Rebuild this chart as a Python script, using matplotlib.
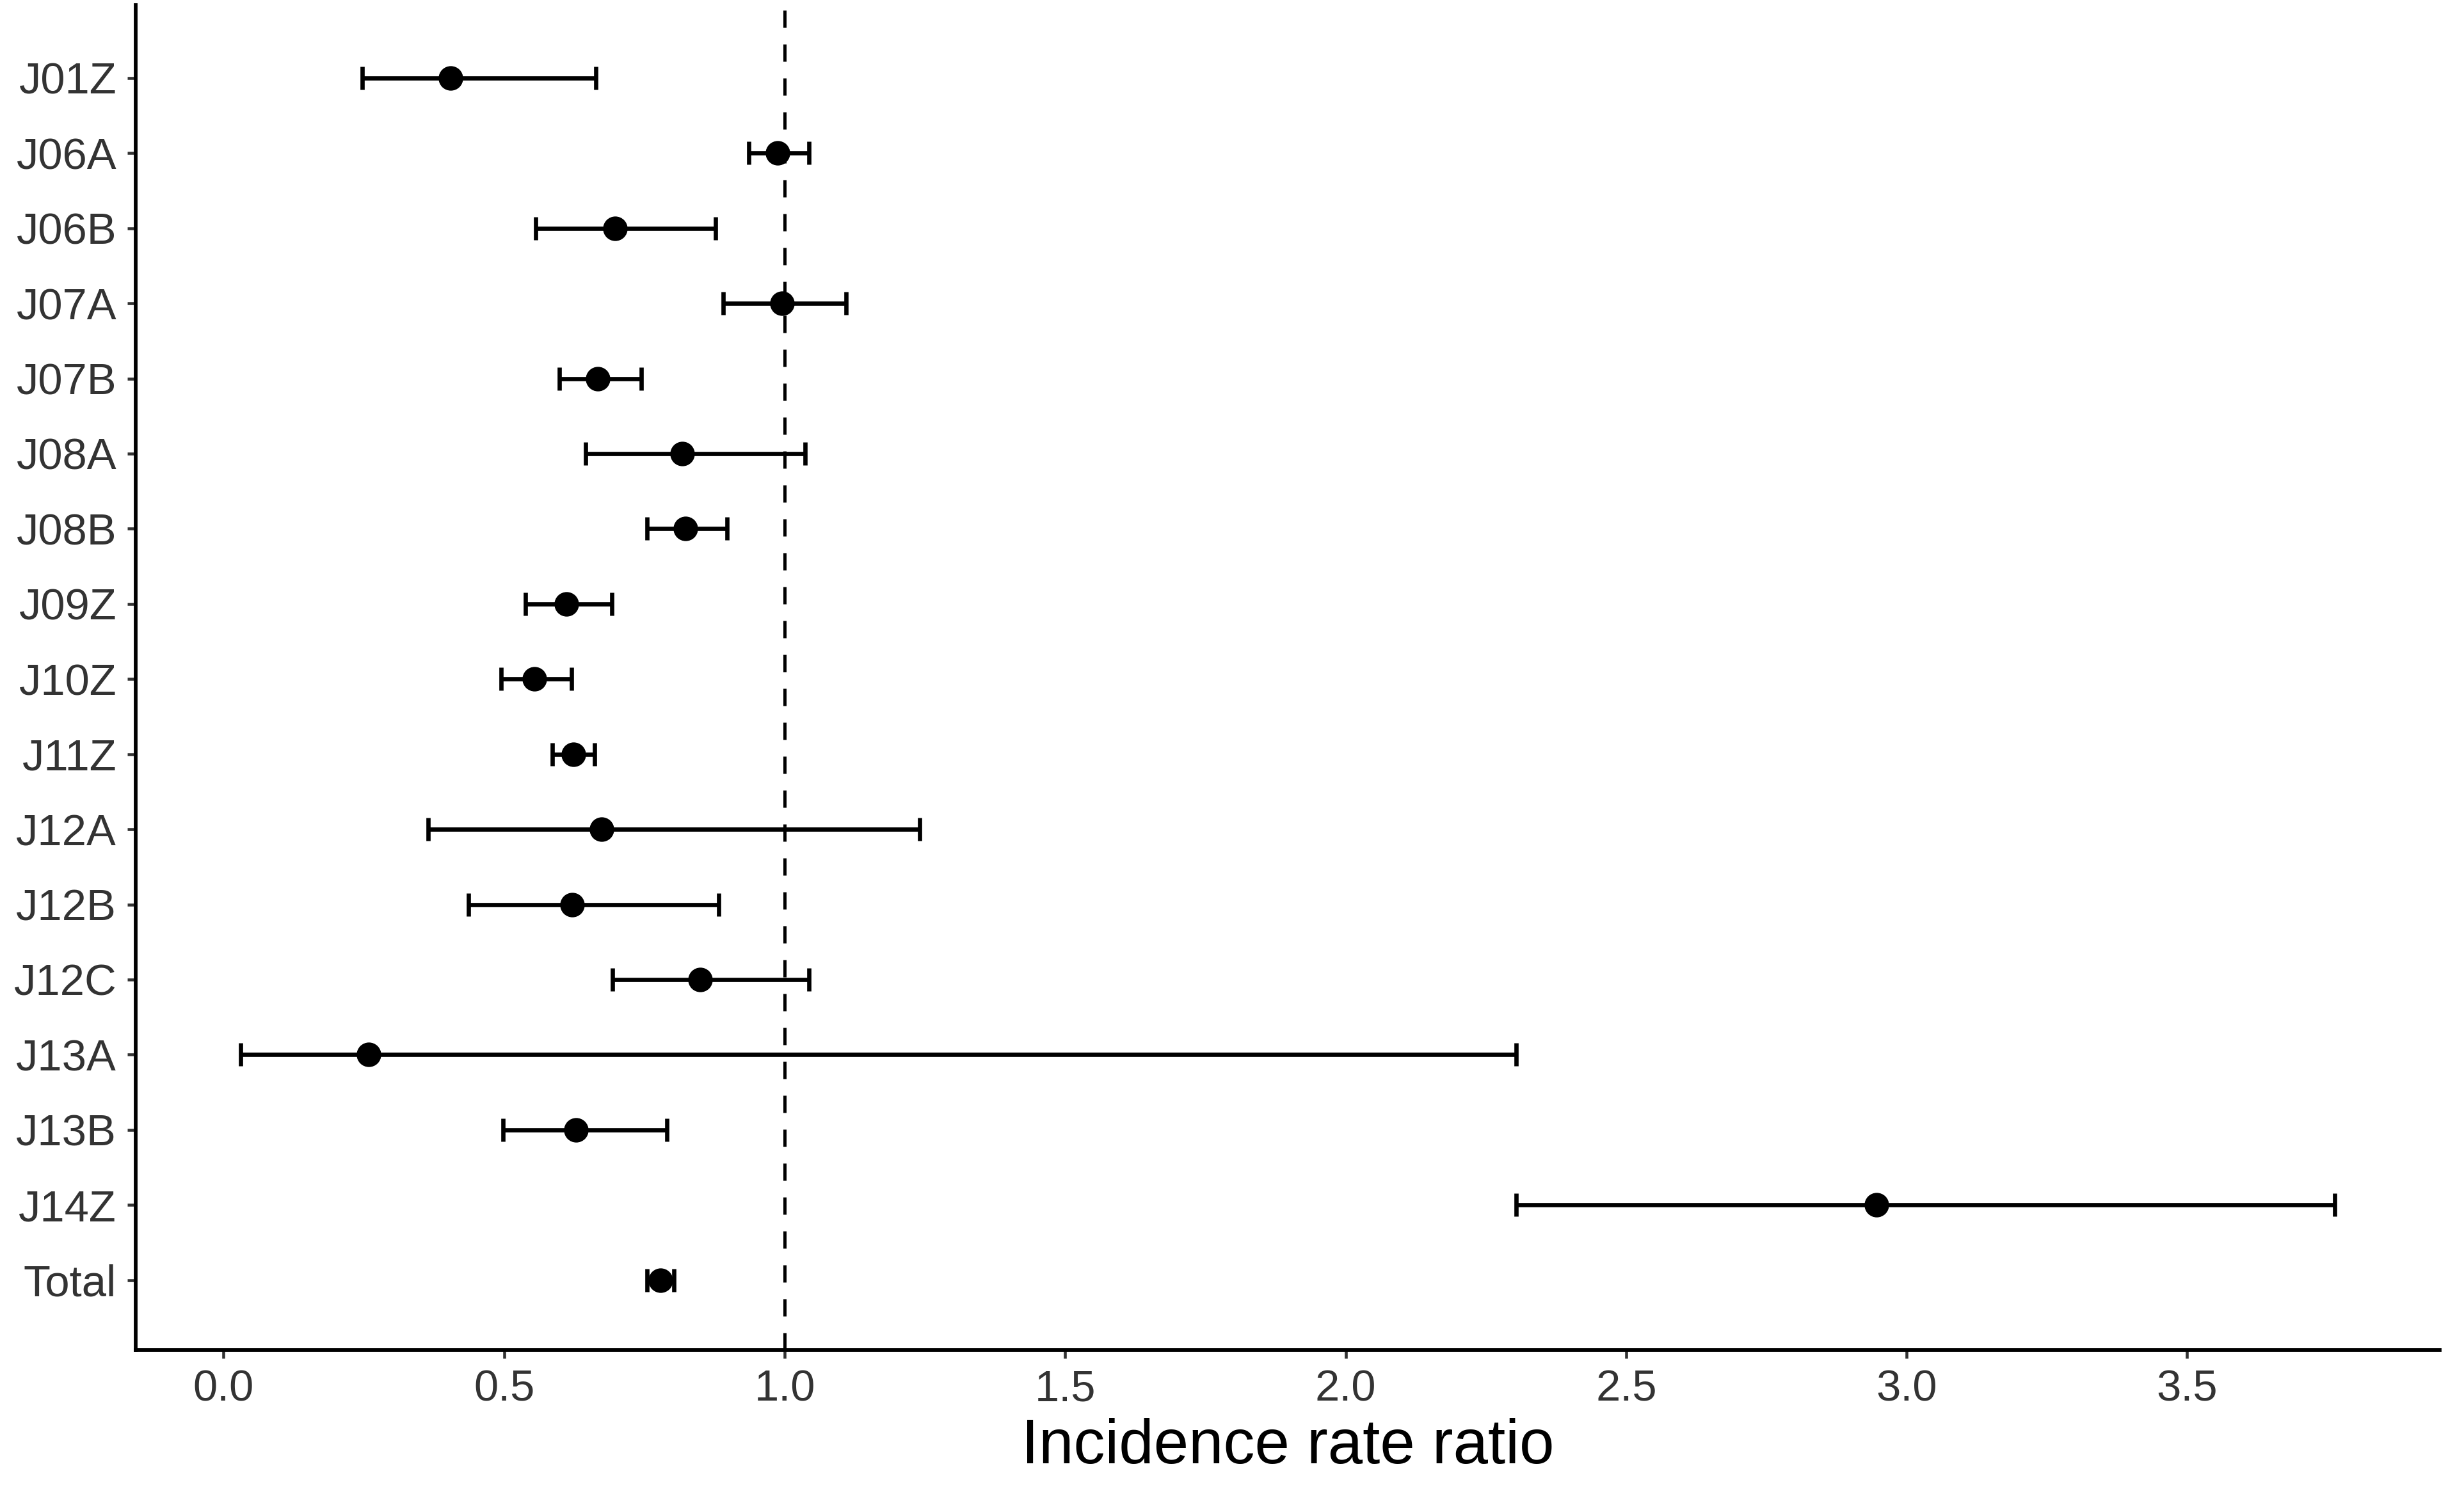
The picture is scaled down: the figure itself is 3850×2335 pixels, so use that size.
import numpy as np
import matplotlib
matplotlib.use("Agg")
import matplotlib.pyplot as plt

plt.rcParams['font.family'] = ['Liberation Sans', 'DejaVu Sans']

categories = ["J01Z", "J06A", "J06B", "J07A", "J07B", "J08A", "J08B", "J09Z",
              "J10Z", "J11Z", "J12A", "J12B", "J12C", "J13A", "J13B", "J14Z", "Total"]
irr = [0.405, 0.987, 0.698, 0.995, 0.667, 0.817, 0.823, 0.611,
       0.554, 0.623, 0.674, 0.621, 0.849, 0.258, 0.628, 2.946, 0.779]
lower = [0.247, 0.936, 0.556, 0.891, 0.599, 0.645, 0.755, 0.538,
         0.495, 0.586, 0.365, 0.436, 0.693, 0.030, 0.498, 2.304, 0.755]
upper = [0.663, 1.043, 0.877, 1.109, 0.745, 1.036, 0.897, 0.692,
         0.620, 0.661, 1.241, 0.882, 1.043, 2.304, 0.790, 3.763, 0.803]
xticks = [0.0, 0.5, 1.0, 1.5, 2.0, 2.5, 3.0, 3.5]
xtick_labels = ["0.0", "0.5", "1.0", "1.5", "2.0", "2.5", "3.0", "3.5"]
ref_value = 1.0
x_label = "Incidence rate ratio"

irr_a = np.array(irr)
lo_a = np.array(lower)
hi_a = np.array(upper)
ypos = np.arange(len(categories))

fig = plt.figure(figsize=(3850 / 300, 2335 / 300), dpi=300)
ax = fig.add_axes([0.0551, 0.0964, 0.9349, 0.9002])

ax.axvline(ref_value, color='black', lw=1.2, linestyle=(0, (5.4, 5.2)), zorder=1)
ax.errorbar(irr_a, ypos, xerr=[irr_a - lo_a, hi_a - irr_a], fmt='o', color='black',
            ms=8.2, elinewidth=1.6, capsize=4.3, capthick=1.6, zorder=3)

rng = hi_a.max() - lo_a.min()
ax.set_xlim(lo_a.min() - 0.05 * rng, hi_a.max() + 0.05 * rng)
ax.set_ylim(len(categories) - 1 + 0.93, -0.97)

ax.set_yticks(ypos)
ax.set_yticklabels(categories)
ax.set_xticks(xticks)
ax.set_xticklabels(xtick_labels)

for s in ['top', 'right']:
    ax.spines[s].set_visible(False)
for s in ['left', 'bottom']:
    ax.spines[s].set_linewidth(1.4)
    ax.spines[s].set_color('black')

ax.tick_params(axis='both', length=3.2, width=1.1, color='#333333',
               labelsize=16.5, labelcolor='#333333')
ax.tick_params(axis='y', pad=4)
ax.tick_params(axis='x', pad=4)

ax.set_xlabel(x_label, fontsize=23.5, color='black', labelpad=3)

fig.savefig("out.png", dpi=300, facecolor='white')
